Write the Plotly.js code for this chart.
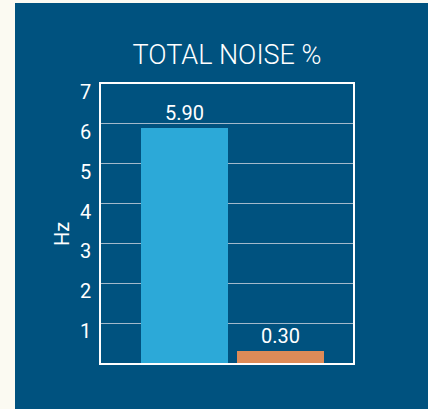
<!DOCTYPE html>
<html>
<head>
<meta charset="utf-8">
<script src="https://cdn.plot.ly/plotly-3.0.1.min.js"></script>
<style>
html,body{margin:0;padding:0;background:#fbfaf2;width:428px;height:409px;overflow:hidden;}
#chart{position:absolute;left:15px;top:3px;width:413px;height:406px;}
</style>
</head>
<body>
<div id="chart"></div>
<script>
const categories = ['Noise A', 'Noise B'];
const values = [5.90, 0.30];
const barColors = ['#2ca9d8', '#dd8b58'];
const yTicks = [1, 2, 3, 4, 5, 6, 7];

const trace = {
  type: 'bar',
  x: [0, 1],
  y: values,
  width: 0.906,
  marker: {color: barColors, line: {width: 0}},
  text: values.map(v => v.toFixed(2)),
  textposition: 'outside',
  cliponaxis: false,
  textfont: {family: 'Roboto, sans-serif', size: 20, color: '#ffffff'},
  hoverinfo: 'skip'
};

const tickFont = {family: 'Roboto, sans-serif', size: 20, color: '#ffffff'};
const tickAnnotations = yTicks.map(v => ({
  text: String(v),
  xref: 'paper', yref: 'y', x: 0, y: v,
  xanchor: 'right', yanchor: 'middle',
  xshift: -8, yshift: -8,
  showarrow: false, font: tickFont
}));

const layout = {
  width: 413, height: 406,
  paper_bgcolor: '#00527f',
  plot_bgcolor: '#00527f',
  margin: {l: 86, r: 75, t: 81, b: 46},
  showlegend: false,
  title: {
    text: 'TOTAL NOISE %',
    font: {family: 'Roboto, sans-serif', size: 27, color: '#ffffff', weight: 300},
    x: 0.5, xref: 'paper', xanchor: 'center',
    y: 1 - 52/406, yref: 'container', yanchor: 'middle'
  },
  xaxis: {
    range: [-0.87, 1.755],
    tickvals: [0, 1], ticktext: categories,
    showticklabels: false, showgrid: false, zeroline: false,
    showline: true, linecolor: '#ffffff', linewidth: 2, mirror: true, ticks: ''
  },
  yaxis: {
    range: [0, 7],
    tickvals: yTicks,
    showticklabels: false,
    showgrid: true, gridcolor: '#a3b9cb', gridwidth: 1.2,
    zeroline: false,
    showline: true, linecolor: '#ffffff', linewidth: 2, mirror: true, ticks: ''
  },
  annotations: tickAnnotations.concat([{
    text: 'Hz', textangle: -90,
    xref: 'paper', yref: 'paper',
    x: (47 - 86) / 252, y: (360 - 231) / 279,
    xanchor: 'center', yanchor: 'middle', showarrow: false,
    font: {family: 'Roboto, sans-serif', size: 20, color: '#ffffff'}
  }]),
  bargap: 0
};

Plotly.newPlot('chart', [trace], layout, {displayModeBar: false, staticPlot: true});
</script>
</body>
</html>
